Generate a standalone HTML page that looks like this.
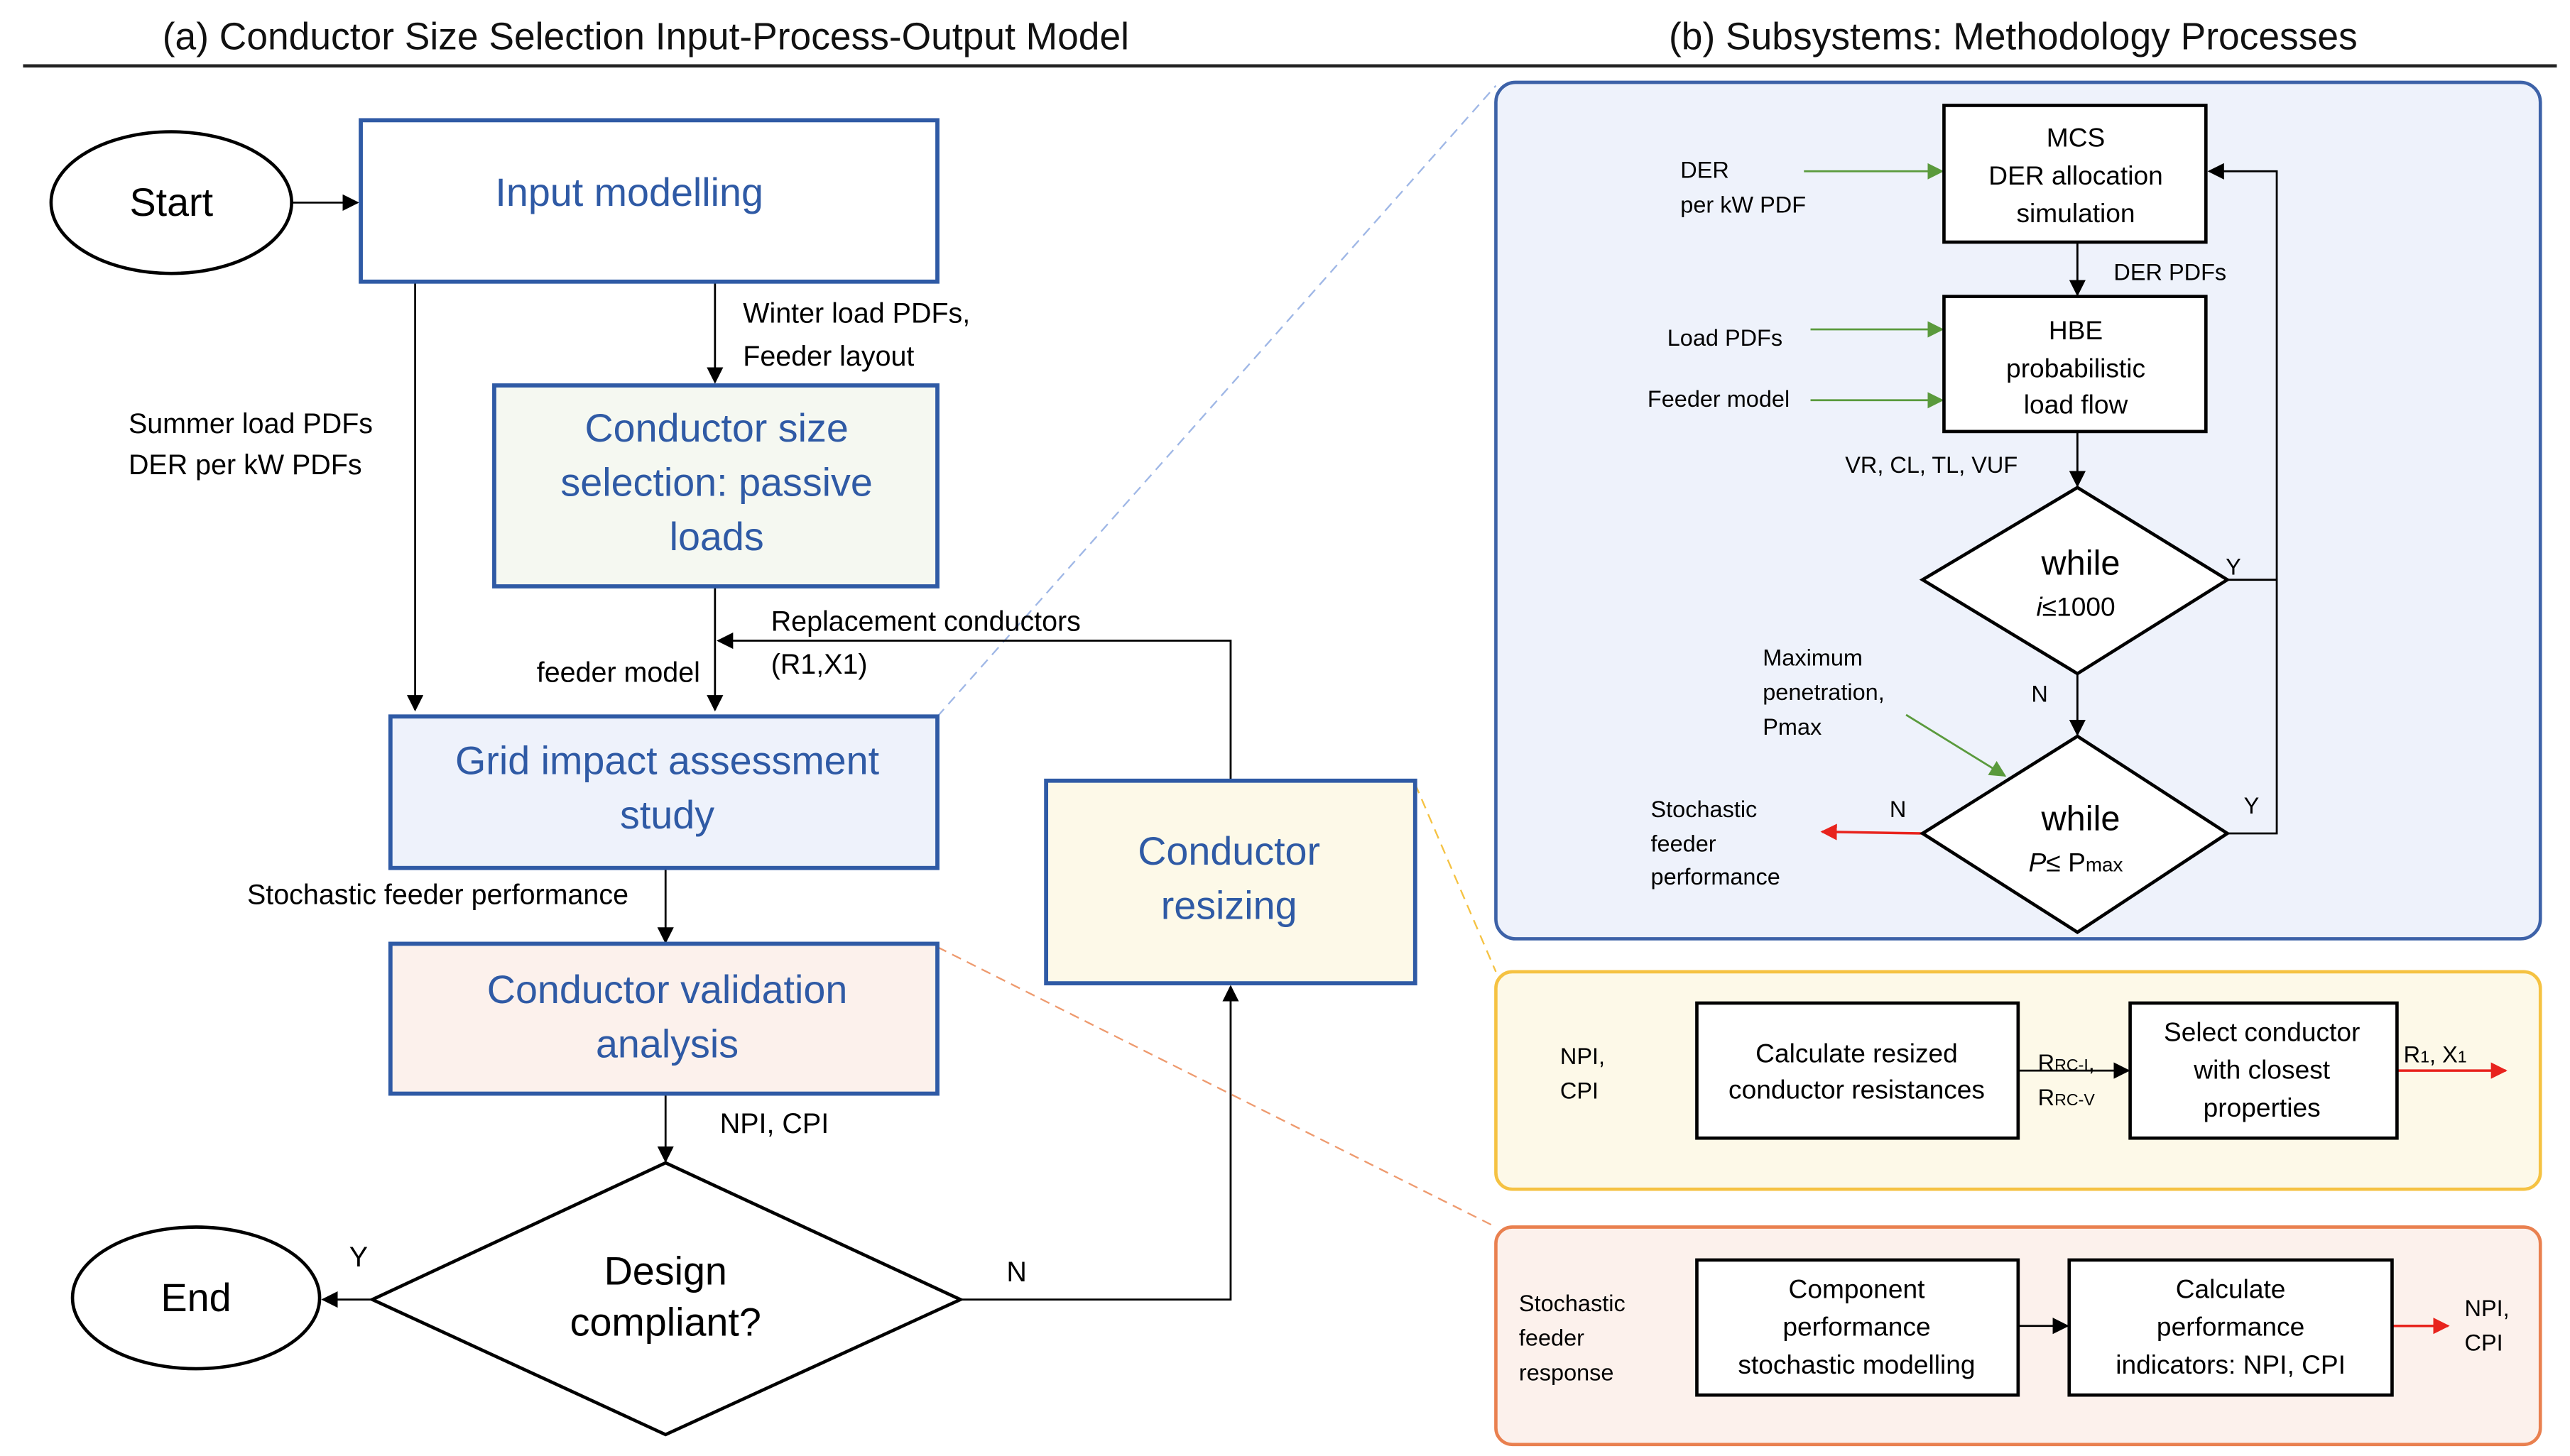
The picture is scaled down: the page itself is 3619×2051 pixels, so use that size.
<!DOCTYPE html>
<html><head><meta charset="utf-8"><style>
html,body{margin:0;padding:0;background:#fff;}
svg{display:block;}
text{font-family:"Liberation Sans",sans-serif;}
</style></head><body>
<svg width="3619" height="2051" viewBox="0 0 1560 884" preserveAspectRatio="none" xmlns="http://www.w3.org/2000/svg">
<defs>
<marker id="ab" markerWidth="10" markerHeight="10" refX="9" refY="5" orient="auto" markerUnits="userSpaceOnUse"><path d="M0,0 L10,5 L0,10 z" fill="#000"/></marker>
<marker id="ag" markerWidth="10" markerHeight="10" refX="9" refY="5" orient="auto" markerUnits="userSpaceOnUse"><path d="M0,0 L10,5 L0,10 z" fill="#5a9a3c"/></marker>
<marker id="ar" markerWidth="10" markerHeight="10" refX="9" refY="5" orient="auto" markerUnits="userSpaceOnUse"><path d="M0,0 L10,5 L0,10 z" fill="#e8231d"/></marker>
</defs>
<g font-size="23" fill="#111" text-anchor="middle">
<text x="392" y="30">(a) Conductor Size Selection Input-Process-Output Model</text>
<text x="1222" y="30">(b) Subsystems: Methodology Processes</text>
</g>
<line x1="14" y1="40" x2="1552" y2="40" stroke="#222" stroke-width="2"/>

<!-- dashed guides -->
<line x1="569" y1="435" x2="908" y2="52" stroke="#9fb7e6" stroke-width="1" stroke-dasharray="6,4"/>
<line x1="859" y1="476" x2="908" y2="590" stroke="#f5c242" stroke-width="1" stroke-dasharray="6,4"/>
<line x1="569" y1="575" x2="908" y2="745" stroke="#ee9a6e" stroke-width="1" stroke-dasharray="6,4"/>

<!-- left flow -->
<g stroke="#000" stroke-width="1.2" fill="none">
<line x1="177" y1="123" x2="217" y2="123" marker-end="url(#ab)"/>
<line x1="434" y1="171" x2="434" y2="232" marker-end="url(#ab)"/>
<line x1="252" y1="171" x2="252" y2="431" marker-end="url(#ab)"/>
<line x1="434" y1="356" x2="434" y2="431" marker-end="url(#ab)"/>
<polyline points="747,473 747,389 436,389" marker-end="url(#ab)"/>
<line x1="404" y1="527" x2="404" y2="572" marker-end="url(#ab)"/>
<line x1="404" y1="664" x2="404" y2="705" marker-end="url(#ab)"/>
<line x1="226" y1="789" x2="196" y2="789" marker-end="url(#ab)"/>
<polyline points="583,789 747,789 747,599" marker-end="url(#ab)"/>
</g>
<ellipse cx="104" cy="123" rx="73" ry="43" fill="#fff" stroke="#000" stroke-width="2"/>
<ellipse cx="119" cy="788" rx="75" ry="43" fill="#fff" stroke="#000" stroke-width="2"/>
<polygon points="404,706 583,789 404,871 226,789" fill="#fff" stroke="#000" stroke-width="2"/>
<rect x="219" y="73" width="350" height="98" fill="#fff" stroke="#2f5aa5" stroke-width="2.5"/>
<rect x="300" y="234" width="269" height="122" fill="#f5f8f1" stroke="#2f5aa5" stroke-width="2.5"/>
<rect x="237" y="435" width="332" height="92" fill="#eef2fb" stroke="#2f5aa5" stroke-width="2.5"/>
<rect x="237" y="573" width="332" height="91" fill="#fcf1ec" stroke="#2f5aa5" stroke-width="2.5"/>
<rect x="635" y="474" width="224" height="123" fill="#fdf9e8" stroke="#2f5aa5" stroke-width="2.5"/>

<g font-size="24" fill="#2f5aa5" text-anchor="middle">
<text x="382" y="125">Input modelling</text>
<text x="435" y="268">Conductor size</text>
<text x="435" y="301">selection: passive</text>
<text x="435" y="334">loads</text>
<text x="405" y="470">Grid impact assessment</text>
<text x="405" y="503">study</text>
<text x="405" y="609">Conductor validation</text>
<text x="405" y="642">analysis</text>
<text x="746" y="525">Conductor</text>
<text x="746" y="558">resizing</text>
</g>
<g font-size="24" fill="#000" text-anchor="middle">
<text x="104" y="131">Start</text>
<text x="119" y="796">End</text>
<text x="404" y="780">Design</text>
<text x="404" y="811">compliant?</text>
</g>
<g font-size="17" fill="#000">
<text x="451" y="196">Winter load PDFs,</text>
<text x="451" y="222">Feeder layout</text>
<text x="78" y="263">Summer load PDFs</text>
<text x="78" y="288">DER per kW PDFs</text>
<text x="425" y="414" text-anchor="end">feeder model</text>
<text x="468" y="383">Replacement conductors</text>
<text x="468" y="409">(R1,X1)</text>
<text x="150" y="549">Stochastic feeder performance</text>
<text x="437" y="688">NPI, CPI</text>
<text x="212" y="769">Y</text>
<text x="611" y="778">N</text>
</g>

<!-- right blue panel -->
<rect x="908" y="50" width="634" height="520" rx="12" fill="#eef2fb" stroke="#3d62a8" stroke-width="2"/>
<g stroke="#000" stroke-width="1.2" fill="none">
<line x1="1261" y1="147" x2="1261" y2="179" marker-end="url(#ab)"/>
<line x1="1261" y1="262" x2="1261" y2="295" marker-end="url(#ab)"/>
<line x1="1261" y1="409" x2="1261" y2="446" marker-end="url(#ab)"/>
<polyline points="1352,352 1382,352"/>
<polyline points="1352,506 1382,506 1382,104 1341,104" marker-end="url(#ab)"/>
</g>
<g stroke="#5a9a3c" stroke-width="1.2">
<line x1="1095" y1="104" x2="1179" y2="104" marker-end="url(#ag)"/>
<line x1="1099" y1="200" x2="1179" y2="200" marker-end="url(#ag)"/>
<line x1="1099" y1="243" x2="1179" y2="243" marker-end="url(#ag)"/>
<line x1="1157" y1="434" x2="1217" y2="471" marker-end="url(#ag)"/>
<line x1="978" y1="650" x2="1029" y2="650" marker-end="url(#ag)"/>
<line x1="993" y1="805" x2="1029" y2="805" marker-end="url(#ag)"/>
</g>
<line x1="1167" y1="506" x2="1106" y2="505" stroke="#e8231d" stroke-width="1.5" marker-end="url(#ar)"/>
<rect x="1180" y="64" width="159" height="83" fill="#fff" stroke="#000" stroke-width="2"/>
<rect x="1180" y="180" width="159" height="82" fill="#fff" stroke="#000" stroke-width="2"/>
<polygon points="1261,296 1352,352 1261,409 1167,352" fill="#fff" stroke="#000" stroke-width="2"/>
<polygon points="1261,447 1352,506 1261,566 1167,506" fill="#fff" stroke="#000" stroke-width="2"/>
<g font-size="16" fill="#000" text-anchor="middle">
<text x="1260" y="89">MCS</text>
<text x="1260" y="112">DER allocation</text>
<text x="1260" y="135">simulation</text>
<text x="1260" y="206">HBE</text>
<text x="1260" y="229">probabilistic</text>
<text x="1260" y="251">load flow</text>
<text x="1263" y="349" font-size="21">while</text>
<text x="1260" y="374" font-style="italic">i<tspan font-style="normal">≤1000</tspan></text>
<text x="1263" y="504" font-size="21">while</text>
<text x="1260" y="529"><tspan font-style="italic">P</tspan>≤ P<tspan font-size="12">max</tspan></text>
</g>
<g font-size="14" fill="#000">
<text x="1020" y="108">DER</text>
<text x="1020" y="129">per kW PDF</text>
<text x="1283" y="170">DER PDFs</text>
<text x="1012" y="210">Load PDFs</text>
<text x="1000" y="247">Feeder model</text>
<text x="1120" y="287">VR, CL, TL, VUF</text>
<text x="1351" y="349">Y</text>
<text x="1233" y="426">N</text>
<text x="1070" y="404">Maximum</text>
<text x="1070" y="425">penetration,</text>
<text x="1070" y="446">Pmax</text>
<text x="1002" y="496">Stochastic</text>
<text x="1002" y="517">feeder</text>
<text x="1002" y="537">performance</text>
<text x="1147" y="496">N</text>
<text x="1362" y="494">Y</text>
</g>

<!-- yellow panel -->
<rect x="908" y="590" width="634" height="132" rx="10" fill="#fdf9e8" stroke="#f5c242" stroke-width="2"/>
<line x1="1225" y1="650" x2="1292" y2="650" stroke="#000" stroke-width="1.2" marker-end="url(#ab)"/>
<line x1="1455" y1="650" x2="1521" y2="650" stroke="#e8231d" stroke-width="1.5" marker-end="url(#ar)"/>
<rect x="1030" y="609" width="195" height="82" fill="#fff" stroke="#000" stroke-width="2"/>
<rect x="1293" y="609" width="162" height="82" fill="#fff" stroke="#000" stroke-width="2"/>
<g font-size="16" fill="#000" text-anchor="middle">
<text x="1127" y="645">Calculate resized</text>
<text x="1127" y="667">conductor resistances</text>
<text x="1373" y="632">Select conductor</text>
<text x="1373" y="655">with closest</text>
<text x="1373" y="678">properties</text>
</g>
<g font-size="14" fill="#000">
<text x="947" y="646">NPI,</text>
<text x="947" y="667">CPI</text>
<text x="1237" y="650">R<tspan font-size="10">RC-I</tspan>,</text>
<text x="1237" y="671">R<tspan font-size="10">RC-V</tspan></text>
<text x="1459" y="645">R<tspan font-size="10">1</tspan>, X<tspan font-size="10">1</tspan></text>
</g>

<!-- orange panel -->
<rect x="908" y="745" width="634" height="132" rx="10" fill="#fcf1ec" stroke="#e9804f" stroke-width="2"/>
<line x1="1225" y1="805" x2="1255" y2="805" stroke="#000" stroke-width="1.2" marker-end="url(#ab)"/>
<line x1="1452" y1="805" x2="1486" y2="805" stroke="#e8231d" stroke-width="1.5" marker-end="url(#ar)"/>
<rect x="1030" y="765" width="195" height="82" fill="#fff" stroke="#000" stroke-width="2"/>
<rect x="1256" y="765" width="196" height="82" fill="#fff" stroke="#000" stroke-width="2"/>
<g font-size="16" fill="#000" text-anchor="middle">
<text x="1127" y="788">Component</text>
<text x="1127" y="811">performance</text>
<text x="1127" y="834">stochastic modelling</text>
<text x="1354" y="788">Calculate</text>
<text x="1354" y="811">performance</text>
<text x="1354" y="834">indicators: NPI, CPI</text>
</g>
<g font-size="14" fill="#000">
<text x="922" y="796">Stochastic</text>
<text x="922" y="817">feeder</text>
<text x="922" y="838">response</text>
<text x="1496" y="799">NPI,</text>
<text x="1496" y="820">CPI</text>
</g>
</svg>
</body></html>
